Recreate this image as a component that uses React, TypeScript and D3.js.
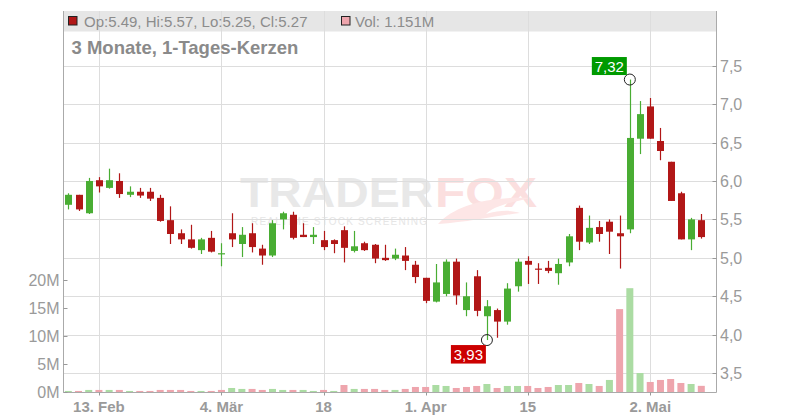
import React from "react";
import * as d3 from "d3";

const opens = [5.69,5.82,5.58,6.01,5.91,6.00,5.82,5.86,5.86,5.78,5.49,5.32,5.24,5.10,5.26,5.05,5.32,5.18,5.32,5.12,5.03,5.50,5.56,5.30,5.27,5.23,5.23,5.36,5.09,5.19,5.17,5.00,4.99,5.03,4.91,4.74,4.43,4.53,4.95,4.32,4.76,4.24,4.32,4.17,4.63,4.96,4.86,4.87,4.80,4.94,5.65,5.20,5.40,5.47,5.32,5.37,6.55,6.97,6.52,6.25,5.84,5.24,5.49];
const highs = [5.84,5.82,6.04,6.05,6.16,6.10,5.93,5.91,5.91,5.82,5.67,5.37,5.43,5.26,5.35,5.19,5.58,5.40,5.45,5.17,5.49,5.60,5.60,5.45,5.40,5.35,5.24,5.41,5.35,5.21,5.18,5.17,5.12,5.14,4.96,4.74,4.92,4.98,4.99,4.68,4.84,4.45,4.34,4.67,4.99,5.02,4.93,4.96,4.99,5.31,5.68,5.55,5.48,5.50,5.55,7.32,7.04,7.08,6.69,6.25,5.86,5.52,5.57];
const lows = [5.63,5.61,5.57,5.85,5.90,5.78,5.79,5.78,5.74,5.47,5.18,5.18,5.12,5.05,5.07,4.89,5.14,5.01,5.07,4.91,5.01,5.37,5.24,5.27,5.18,5.10,5.06,4.94,5.07,5.09,4.93,4.96,4.97,4.84,4.67,4.41,4.42,4.50,4.39,4.24,4.24,3.93,3.96,4.13,4.56,4.66,4.66,4.80,4.65,4.89,5.10,5.18,5.21,5.05,4.86,5.32,6.35,6.55,6.27,5.74,5.24,5.10,5.25];
const closes = [5.82,5.63,6.00,5.93,6.01,5.83,5.86,5.81,5.77,5.48,5.31,5.24,5.13,5.24,5.08,5.06,5.24,5.30,5.14,5.03,5.45,5.58,5.26,5.27,5.30,5.14,5.18,5.13,5.15,5.10,4.99,4.97,5.04,4.96,4.75,4.44,4.68,4.95,4.51,4.50,4.31,4.37,4.17,4.60,4.95,4.91,4.85,4.83,4.92,5.28,5.21,5.39,5.31,5.34,5.28,6.56,6.87,6.55,6.39,5.74,5.24,5.50,5.27];
const volumes = [0.24,0.24,0.42,0.42,0.42,0.42,0.24,0.24,0.24,0.42,0.42,0.42,0.24,0.24,0.24,0.42,0.77,0.6,0.6,0.42,0.6,0.42,0.42,0.42,0.24,0.42,0.24,1.3,0.6,0.6,0.6,0.42,0.42,0.6,0.95,0.95,1.3,1.13,0.77,0.95,1.13,1.48,0.77,1.13,1.13,1.13,0.77,0.95,1.3,1.3,1.66,1.48,1.13,2.2,14.83,18.56,3.44,1.84,2.2,2.37,1.66,1.48,1.151];

const dateTickIdx = [3, 15, 25, 35, 45, 57];
const dateTickLabels = ["13. Feb", "4. Mär", "18", "1. Apr", "15", "2. Mai"];
const priceTicks = [3.5, 4.0, 4.5, 5.0, 5.5, 6.0, 6.5, 7.0, 7.5];
const volumeTicks = [0, 5, 10, 15, 20];

const FONT = "'Liberation Sans', Arial, sans-serif";
const GREEN = "#49ad33";
const RED = "#b11717";
const VGREEN = "#abdca3";
const VRED = "#eea5ad";
const GRID = "#dddddd";
const AXIS = "#aaaaaa";
const TXT = "#9a9a9a";

function fmt2(v: number) {
  return d3.format(".2f")(v).replace(".", ",");
}

export default function App() {
  const W = 800, H = 420;
  const left = 63.5, right = 716.5, top = 11, bottom = 392.5;
  const n = closes.length;
  const x = d3.scaleLinear().domain([0, n - 1]).range([68.3, 701.3]);
  const y = d3.scaleLinear().domain([3.5, 7.5]).range([373.1, 65.7]);
  const yv = d3.scaleLinear().domain([0, 20]).range([392.3, 280.1]);
  const bw = 7;
  const fmt = (v: number) => d3.format(".1f")(v).replace(".", ",");

  const hiIdx = d3.maxIndex(highs);
  const loIdx = d3.minIndex(lows);
  const hx = x(hiIdx), hy = y(highs[hiIdx]);
  const lx = x(loIdx), ly = y(lows[loIdx]);

  return (
    <svg width={W} height={H} style={{ position: "absolute", left: 0, top: 0, background: "#fff" }} fontFamily={FONT}>
      <rect x={0} y={0} width={W} height={H} fill="#fff" />
      {/* watermark */}
      <g>
        <text x={240} y={206.5} fontSize={42} fontWeight={900} fill="#e8e8e8" textLength={193} lengthAdjust="spacingAndGlyphs">TRADER</text>
        <text x={435} y={206.5} fontSize={42} fontWeight={900} fill="#fbdfdf" textLength={102} lengthAdjust="spacingAndGlyphs">FOX</text>
        <text x={251} y={225} fontSize={10} fill="#e6e6e6" textLength={176} lengthAdjust="spacing">REALTIME STOCK SCREENING</text>
        <path d="M438,224 C455,205 490,196 532,198 C505,203 492,208 486,214 C500,210 512,210 520,213 C495,216 470,222 438,224 Z" fill="#fde6e6" />
      </g>
      {/* header band */}
      <rect x={left} y={top} width={right - left} height={20.5} fill="#e6e6e6" />
      {/* grid */}
      {priceTicks.map((t) => (
        <line key={"hg" + t} x1={left} x2={right} y1={Math.round(y(t)) + 0.5} y2={Math.round(y(t)) + 0.5} stroke={GRID} strokeWidth={1} />
      ))}
      {dateTickIdx.map((i) => (
        <line key={"vg" + i} x1={Math.round(x(i)) + 0.5} x2={Math.round(x(i)) + 0.5} y1={top} y2={bottom} stroke={GRID} strokeWidth={1} />
      ))}
      {/* legend */}
      <rect x={68.5} y={16.5} width={8.5} height={8.5} fill={RED} stroke="#222" strokeWidth={1} />
      <text x={84} y={27} fontSize={15} fill="#8c8c8c">Op:5.49, Hi:5.57, Lo:5.25, Cl:5.27</text>
      <rect x={341.5} y={16.5} width={8.5} height={8.5} fill={VRED} stroke="#222" strokeWidth={1} />
      <text x={355} y={27} fontSize={15} fill="#8c8c8c">Vol: 1.151M</text>
      <text x={71.5} y={54.3} fontSize={18.5} fontWeight={700} fill="#8a8a8a">3 Monate, 1-Tages-Kerzen</text>
      {/* volume */}
      {volumes.map((v, i) => {
        const up = i === 0 ? true : closes[i] >= closes[i - 1];
        return (
          <rect key={"v" + i} x={x(i) - bw / 2} y={yv(v)} width={bw} height={yv(0) - yv(v)} fill={up ? VGREEN : VRED} />
        );
      })}
      {/* candles */}
      {closes.map((c, i) => {
        const o = opens[i];
        const col = c >= o ? GREEN : RED;
        const yt = y(Math.max(o, c));
        const yb = y(Math.min(o, c));
        const cx = Math.round(x(i)) + 0.5;
        return (
          <g key={"c" + i}>
            <line x1={cx} x2={cx} y1={y(highs[i])} y2={y(lows[i])} stroke={col} strokeWidth={1.2} />
            <rect x={cx - bw / 2} y={yt} width={bw} height={Math.max(1.2, yb - yt)} fill={col} />
          </g>
        );
      })}
      {/* axes */}
      <line x1={left} x2={left} y1={top} y2={bottom} stroke={AXIS} strokeWidth={1} />
      <line x1={right} x2={right} y1={top} y2={bottom} stroke={AXIS} strokeWidth={1} />
      <line x1={left} x2={right} y1={bottom} y2={bottom} stroke={AXIS} strokeWidth={1} />
      {priceTicks.map((t) => (
        <g key={"pt" + t}>
          <line x1={right - 4} x2={right} y1={Math.round(y(t)) + 0.5} y2={Math.round(y(t)) + 0.5} stroke="#999" />
          <text x={720} y={y(t) + 6} fontSize={16} fill={TXT}>{fmt(t)}</text>
        </g>
      ))}
      {volumeTicks.map((t) => (
        <g key={"vt" + t}>
          <line x1={left} x2={left + 4} y1={Math.round(yv(t)) + 0.5} y2={Math.round(yv(t)) + 0.5} stroke="#999" />
          <text x={59.5} y={yv(t) + 6} fontSize={16} fill={TXT} textAnchor="end">{t + "M"}</text>
        </g>
      ))}
      {dateTickIdx.map((i, k) => (
        <g key={"dt" + i}>
          <line x1={Math.round(x(i)) + 0.5} x2={Math.round(x(i)) + 0.5} y1={bottom} y2={bottom + 3} stroke="#999" />
          <text x={x(i)} y={412} fontSize={15} fontWeight={700} fill={TXT} textAnchor="middle">{dateTickLabels[k]}</text>
        </g>
      ))}
      {/* annotations */}
      <circle cx={hx} cy={hy} r={5.5} fill="none" stroke="#222" strokeWidth={1} />
      <rect x={hx - 38} y={hy - 22.5} width={35} height={18} fill="#009a00" />
      <text x={hx - 20.5} y={hy - 8} fontSize={15} fill="#fff" textAnchor="middle">{fmt2(highs[hiIdx])}</text>
      <circle cx={lx} cy={ly} r={5.5} fill="none" stroke="#222" strokeWidth={1} />
      <rect x={lx - 36} y={ly + 5} width={35} height={18.5} fill="#cc0000" />
      <text x={lx - 18.5} y={ly + 19.5} fontSize={15} fill="#fff" textAnchor="middle">{fmt2(lows[loIdx])}</text>
    </svg>
  );
}
